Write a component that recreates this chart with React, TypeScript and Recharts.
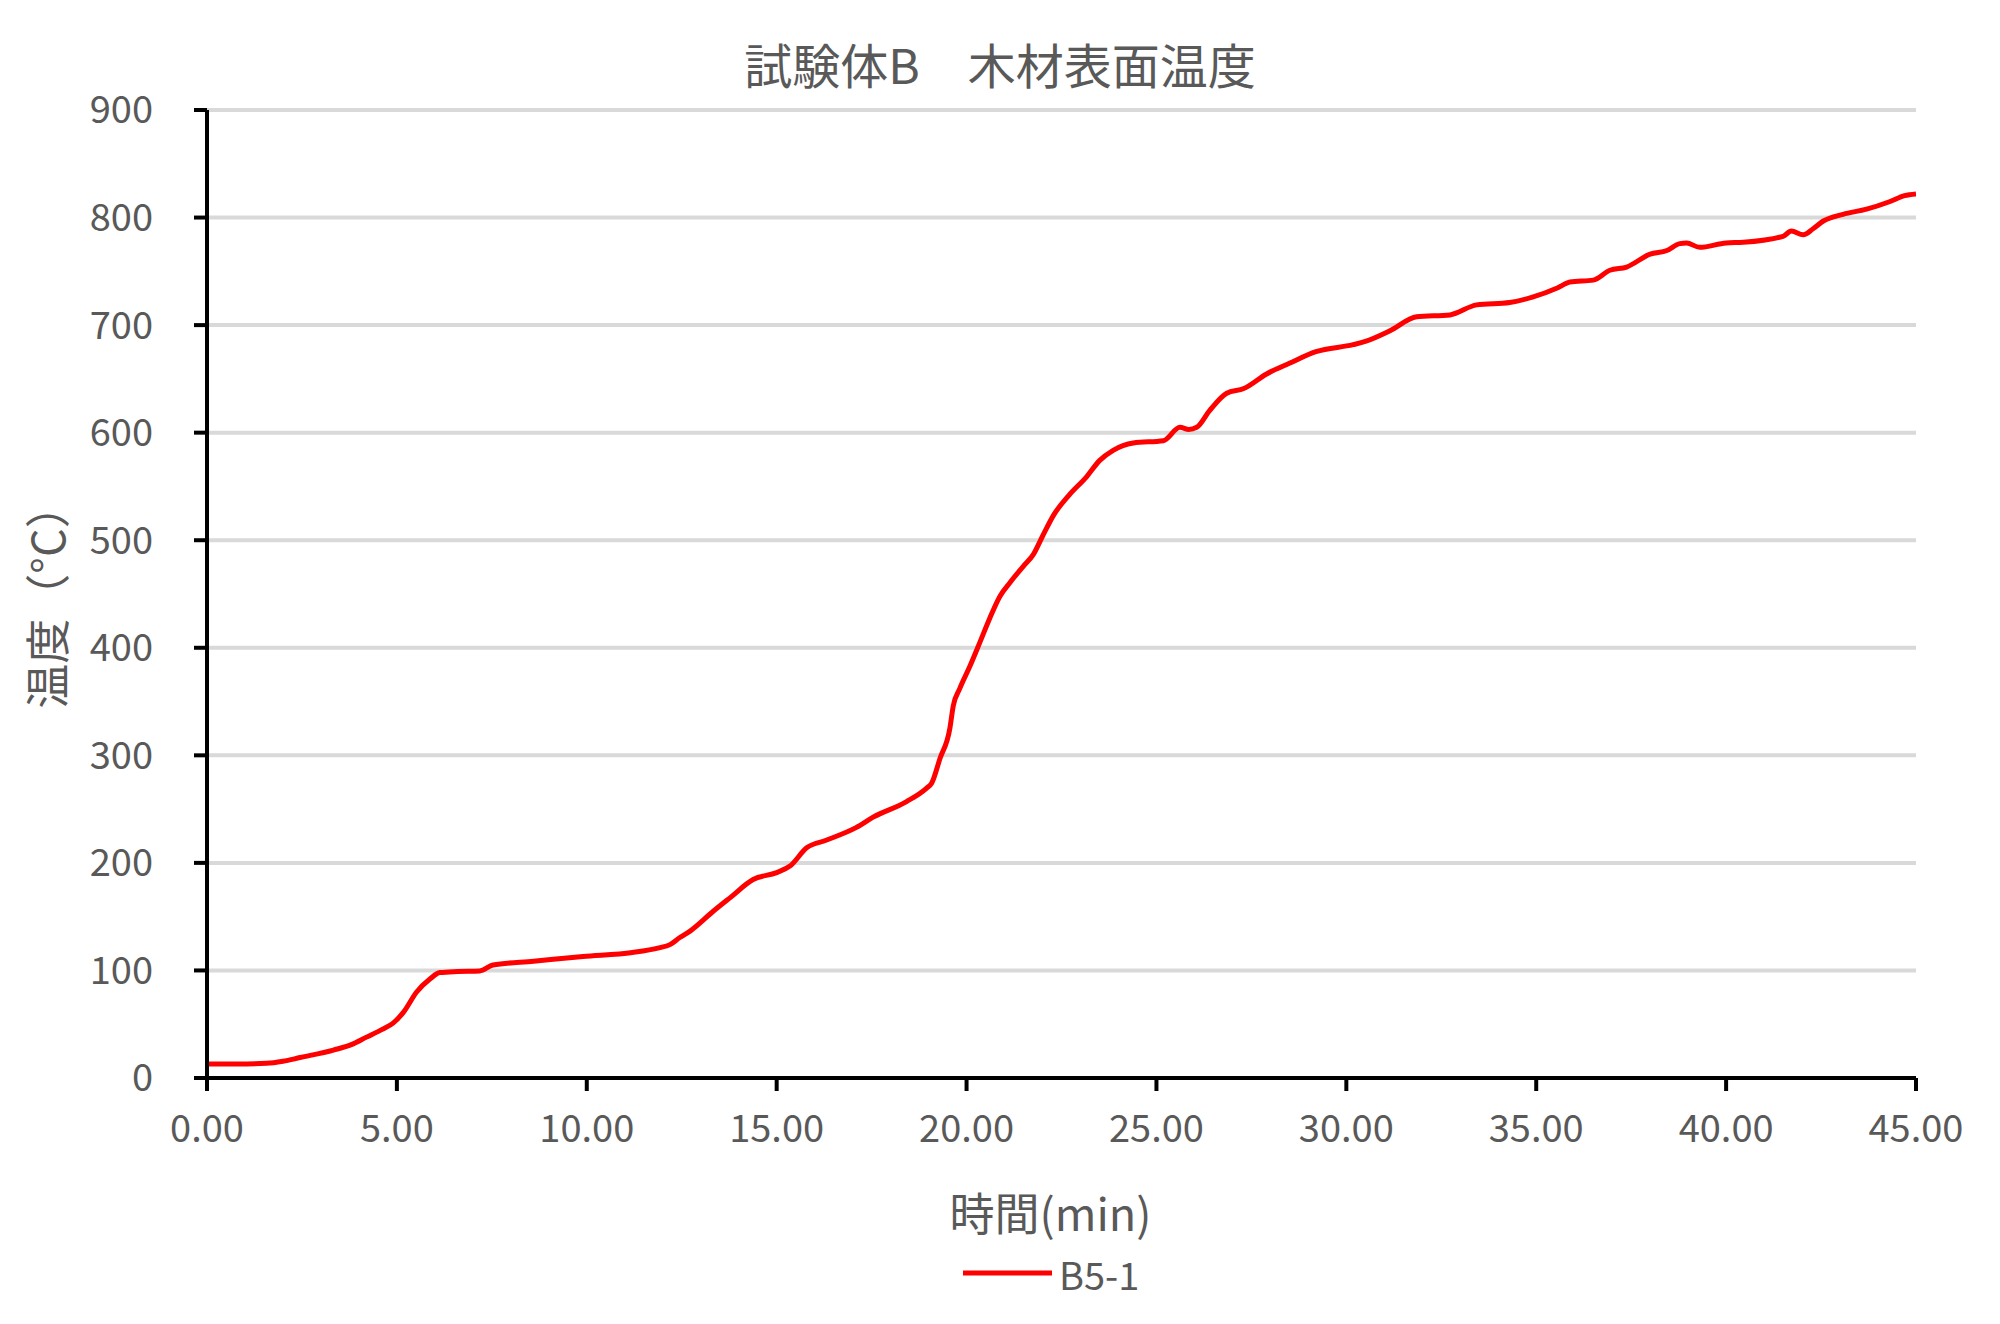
import React from 'react';
import { LineChart, Line, XAxis, YAxis, CartesianGrid, Legend } from 'recharts';

const times: number[] = [0, 0.8, 1.57, 2.0, 2.45, 3.33, 3.8, 4.2, 4.6, 4.9, 5.17, 5.52, 5.87, 6.13, 6.6, 7.18, 7.53, 8.6, 9.9, 11.2, 11.9, 12.19, 12.45, 12.72, 13.33, 13.77, 14.38, 15.0, 15.35, 15.79, 16.3, 17.1, 17.54, 18.42, 18.95, 19.08, 19.3, 19.56, 19.65, 19.82, 20.09, 20.35, 20.6, 20.88, 21.14, 21.5, 21.76, 22.0, 22.3, 22.7, 23.16, 23.5, 23.86, 24.39, 25.18, 25.62, 25.85, 26.06, 26.4, 26.85, 27.3, 27.9, 28.5, 29.2, 30.18, 30.5, 31.15, 31.85, 32.73, 33.43, 34.3, 34.9, 35.57, 35.89, 36.5, 36.94, 37.38, 38.0, 38.44, 38.78, 38.96, 39.3, 40.0, 40.45, 41.5, 41.72, 42.03, 42.29, 42.56, 43.08, 43.7, 44.3, 44.7, 45.0];
const temps: number[] = [13, 13, 13.6, 15.5, 19, 26, 31, 38, 45, 51, 61, 80, 92, 98, 99, 99.5, 105, 108.6, 113, 116.7, 121, 124, 130.6, 136.6, 155, 167.5, 184.5, 191, 197, 214, 221, 233, 242.5, 257, 269.6, 274, 297, 325, 346, 362, 383, 405, 426.6, 448, 460.5, 476, 486.8, 503.7, 523.8, 542, 559, 574, 583.6, 590.4, 592.5, 605, 603, 605, 620.6, 636.7, 641, 654.6, 664.5, 675.3, 681.8, 684.8, 694.7, 707.7, 709.5, 718.8, 721, 726, 734.8, 740, 741.8, 751, 754, 766, 769.4, 775.8, 776.4, 772.3, 776.4, 777, 782.6, 787.4, 784, 789.6, 796.8, 803, 807.8, 814.7, 820.4, 822];

const xTicks: number[] = [0, 5, 10, 15, 20, 25, 30, 35, 40, 45];
const yTicks: number[] = [0, 100, 200, 300, 400, 500, 600, 700, 800, 900];

const seriesName = 'B5-1';
const chartTitle = '試験体B\u3000木材表面温度';
const xLabel = '時間(min)';
const yLabel = '温度（°C）';

const data = times.map((t, i) => ({ t, v: temps[i] }));

const FONT = '"Noto Sans CJK JP", "Noto Sans", sans-serif';
const GREY = '#595959';

const YLabel = (props: any) => {
  const vb = props.viewBox || {};
  const cx = 45;
  const cy = vb.y + vb.height / 2 + 2;
  return (
    <text x={cx} y={cy} transform={`rotate(-90, ${cx}, ${cy})`} textAnchor="middle" dominantBaseline="central" fill={GREY} fontSize={45} fontFamily={FONT}>
      {yLabel}
    </text>
  );
};

const XLabel = (props: any) => {
  const vb = props.viewBox || {};
  const cx = vb.x + vb.width / 2 - 11;
  return (
    <text x={cx} y={1211} textAnchor="middle" dominantBaseline="central" fill={GREY} fontSize={45} fontFamily={FONT}>
      {xLabel}
    </text>
  );
};

const LegendContent = () => (
  <svg width={200} height={50} style={{ overflow: 'visible' }}>
    <line x1={0} y1={23} x2={89} y2={23} stroke="#ff0000" strokeWidth={5} />
    <text x={96} y={23} dominantBaseline="central" fill={GREY} fontSize={38} fontFamily={FONT}>{seriesName}</text>
  </svg>
);

export default function App() {
  return (
    <div style={{ position: 'absolute', left: 0, top: 0, width: 2000, height: 1324, background: '#ffffff', fontFamily: FONT }}>
      <div style={{ position: 'absolute', left: 0, top: 35, width: 2000, textAlign: 'center', fontSize: 48, color: GREY, lineHeight: '56px', fontFamily: FONT }}>
        {chartTitle}
      </div>
      <LineChart width={2000} height={1324} data={data} margin={{ top: 110, right: 84, left: 0, bottom: 146 }}>
        <CartesianGrid vertical={false} stroke="#d9d9d9" strokeWidth={4} />
        <XAxis
          dataKey="t"
          type="number"
          domain={[0, 45]}
          ticks={xTicks}
          allowDataOverflow
          height={100}
          tickFormatter={(v: number) => v.toFixed(2)}
          tick={{ fill: GREY, fontSize: 38, fontFamily: FONT }}
          axisLine={{ stroke: '#000000', strokeWidth: 4 }}
          tickLine={{ stroke: '#000000', strokeWidth: 4 }}
          tickSize={13}
          tickMargin={24}
          label={<XLabel />}
        />
        <YAxis
          type="number"
          domain={[0, 900]}
          ticks={yTicks}
          width={207}
          tick={{ fill: GREY, fontSize: 38, fontFamily: FONT }}
          axisLine={{ stroke: '#000000', strokeWidth: 4 }}
          tickLine={{ stroke: '#000000', strokeWidth: 4 }}
          tickSize={13}
          tickMargin={41}
          label={<YLabel />}
        />
        <Legend
          layout="horizontal"
          verticalAlign="middle"
          align="center"
          content={<LegendContent />}
          wrapperStyle={{ position: 'absolute', left: 963, top: 1250, width: 200, height: 50 }}
        />
        <Line
          type="monotone"
          dataKey="v"
          name={seriesName}
          stroke="#ff0000"
          strokeWidth={5}
          dot={false}
          activeDot={false}
          isAnimationActive={false}
        />
      </LineChart>
    </div>
  );
}
